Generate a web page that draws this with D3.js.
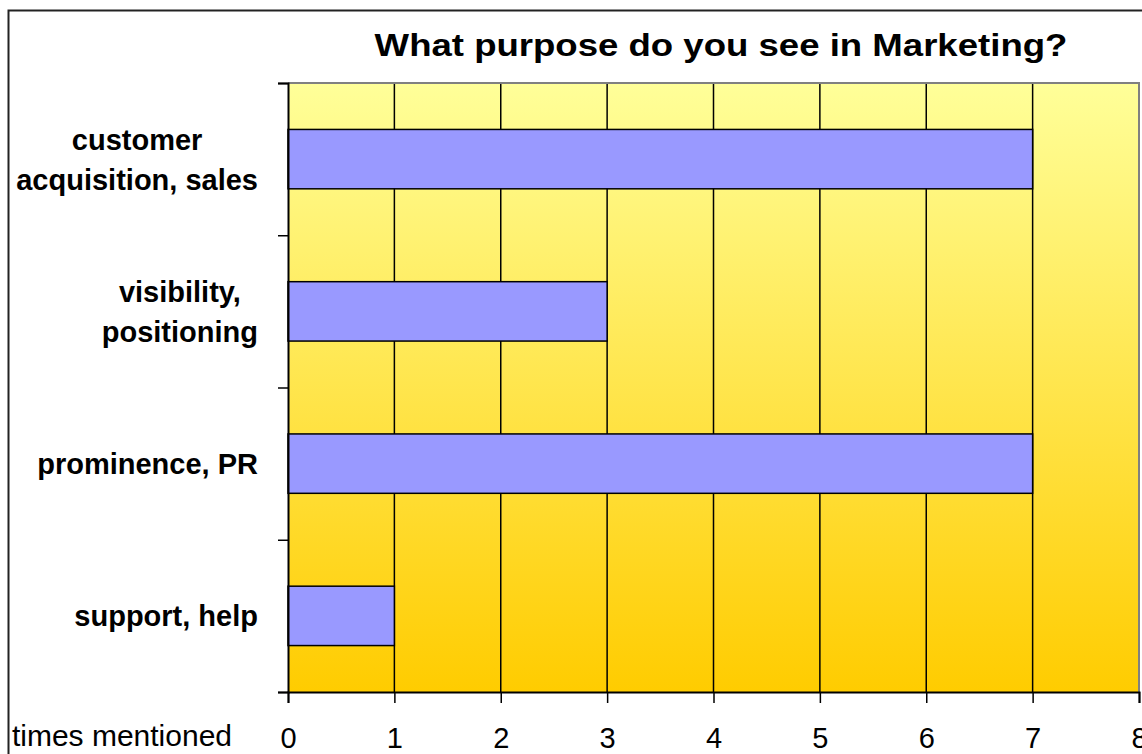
<!DOCTYPE html>
<html>
<head>
<meta charset="utf-8">
<script src="https://cdn.jsdelivr.net/npm/d3@7"></script>
<style>
  body { margin: 0; background: #fff; }
  text { font-family: Arial, "Liberation Sans", sans-serif; }
</style>
</head>
<body>
<svg id="chart" width="1142" height="754"></svg>
<script>
// data
const categories = [
  ['customer', 'acquisition, sales'],
  ['visibility,', 'positioning'],
  ['prominence, PR'],
  ['support, help']
];
const values = [7, 3, 7, 1];
const xTicks = [0, 1, 2, 3, 4, 5, 6, 7, 8];
const chartTitle = 'What purpose do you see in Marketing?';
const xLabel = 'times mentioned';

const svg = d3.select('#chart');
const margin = { top: 83, right: 3, bottom: 62, left: 288 };
const width = +svg.attr('width');
const height = +svg.attr('height');
const innerWidth = width - margin.left - margin.right;
const innerHeight = height - margin.top - margin.bottom;

// outer frame (runs off the right and bottom edge)
svg.append('rect')
  .attr('x', 8.5).attr('y', 10.5)
  .attr('width', 1200).attr('height', 800)
  .attr('fill', 'none').attr('stroke', '#222').attr('stroke-width', 2);

const defs = svg.append('defs');
const grad = defs.append('linearGradient')
  .attr('id', 'bg').attr('x1', 0).attr('y1', 0).attr('x2', 0).attr('y2', 1);
grad.append('stop').attr('offset', '0%').attr('stop-color', '#FFFF99');
grad.append('stop').attr('offset', '100%').attr('stop-color', '#FFCC00');

const g = svg.append('g')
  .attr('transform', `translate(${margin.left}, ${margin.top})`);

const x = d3.scaleLinear().domain([0, 8]).range([0, innerWidth]);
const y = d3.scaleBand()
  .domain(d3.range(categories.length))
  .range([0, innerHeight])
  .paddingInner(0.61)
  .paddingOuter(0.305);

g.append('rect')
  .attr('width', innerWidth).attr('height', innerHeight)
  .attr('fill', 'url(#bg)');

// vertical grid lines
g.selectAll('.grid')
  .data(xTicks.filter(t => t > 0 && t < 8))
  .enter().append('line')
  .attr('x1', d => x(d)).attr('x2', d => x(d))
  .attr('y1', 0).attr('y2', innerHeight)
  .attr('stroke', '#000').attr('stroke-width', 1.5);

// gray top / right border of plot
g.append('path')
  .attr('d', `M0,0H${innerWidth}V${innerHeight}`)
  .attr('fill', 'none').attr('stroke', '#808080').attr('stroke-width', 2);

// bars
g.selectAll('.bar')
  .data(values)
  .enter().append('rect')
  .attr('x', x(0))
  .attr('y', (d, i) => y(i))
  .attr('width', d => x(d))
  .attr('height', y.bandwidth())
  .attr('fill', '#9999FF')
  .attr('stroke', '#000').attr('stroke-width', 1.5);

// x axis
const xAxis = d3.axisBottom(x).tickValues(xTicks).tickSize(11).tickPadding(24);
const xg = g.append('g').attr('transform', `translate(0, ${innerHeight})`).call(xAxis);
xg.select('.domain').attr('stroke', '#000').attr('stroke-width', 2);
xg.selectAll('.tick line').attr('stroke', '#000').attr('stroke-width', 1.5);
xg.selectAll('.tick text')
  .attr('font-size', 29).attr('fill', '#000')
  .attr('font-family', 'Arial, "Liberation Sans", sans-serif')
  .attr('dy', '0.71em');

// y axis: ticks sit on category boundaries
const yb = d3.scaleLinear().domain([0, categories.length]).range([0, innerHeight]);
const yAxis = d3.axisLeft(yb).ticks(categories.length).tickSize(10).tickFormat('');
const yg = g.append('g').call(yAxis);
yg.select('.domain').attr('stroke', '#000').attr('stroke-width', 2);
yg.selectAll('.tick line').attr('stroke', '#000').attr('stroke-width', 1.5);

// category labels, lines centred as a block
const labelRight = -30;
const lineGap = 40;
categories.forEach((lines, i) => {
  const cy = y(i) + y.bandwidth() / 2;
  const t = g.append('text')
    .attr('font-size', 29).attr('font-weight', 'bold')
    .attr('text-anchor', 'middle');
  const spans = lines.map((s, k) => t.append('tspan')
    .attr('x', 0)
    .attr('y', cy + (k - (lines.length - 1) / 2) * lineGap)
    .attr('dy', '0.36em')
    .text(s));
  const w = d3.max(spans, s => s.node().getComputedTextLength());
  spans.forEach(s => s.attr('x', labelRight - w / 2));
});

svg.append('text')
  .attr('x', 232).attr('y', 746)
  .attr('text-anchor', 'end')
  .attr('font-size', 30)
  .text(xLabel);

svg.append('text')
  .attr('transform', 'translate(721, 56) scale(1.18, 1)')
  .attr('text-anchor', 'middle')
  .attr('font-size', 31).attr('font-weight', 'bold')
  .text(chartTitle);
</script>
</body>
</html>
